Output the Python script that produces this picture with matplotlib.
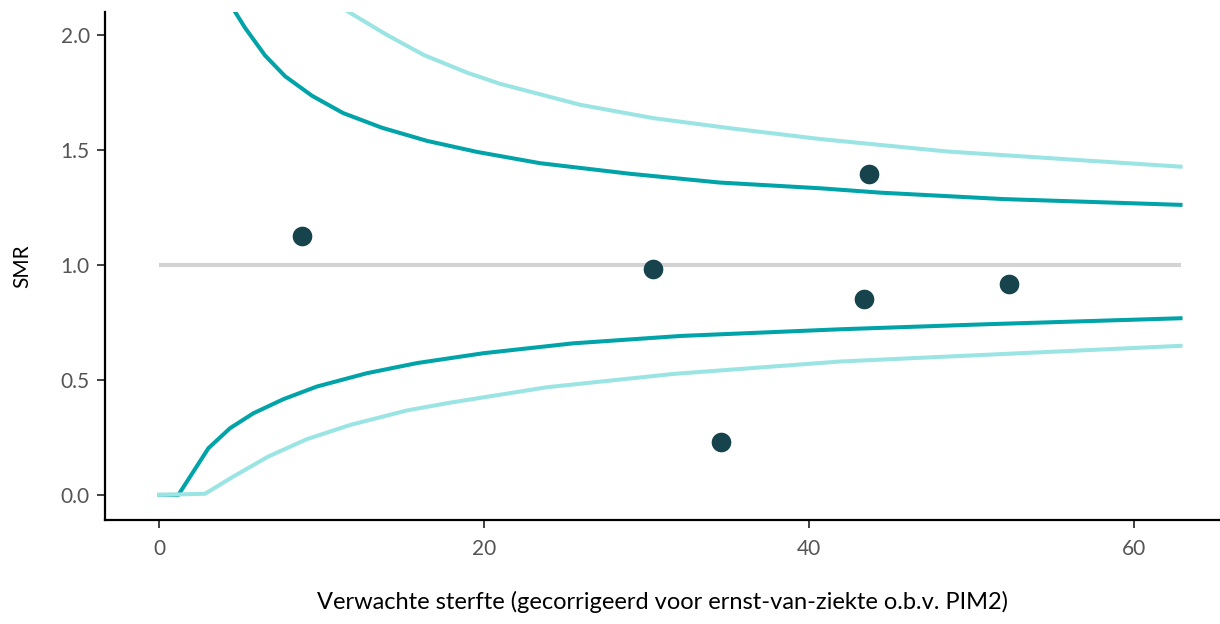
import matplotlib
matplotlib.use("Agg")
from matplotlib import pyplot as plt

# observed hospitals: expected deaths vs SMR
exp_deaths = [8.8, 30.4, 34.6, 43.4, 43.7, 52.3]
smr = [1.126, 0.983, 0.23, 0.852, 1.396, 0.917]

# 95% control limits
up95_x = [4.68, 5.30, 6.53, 7.76, 9.42, 11.33, 13.73, 16.50, 19.58, 23.46, 29.0, 34.5, 40.7, 44.4, 52.0, 62.87]
up95_y = [2.10, 2.03, 1.91, 1.82, 1.735, 1.66, 1.596, 1.539, 1.491, 1.442, 1.396, 1.358, 1.333, 1.314, 1.286, 1.261]
lo95_x = [0, 1.19, 3.04, 4.37, 5.81, 7.65, 9.71, 12.79, 15.87, 19.97, 25.5, 32.1, 41.9, 50.96, 62.87]
lo95_y = [0, 0, 0.203, 0.29, 0.355, 0.416, 0.471, 0.529, 0.573, 0.616, 0.659, 0.691, 0.72, 0.742, 0.768]

# 99.8% control limits
up998_x = [11.66, 14.02, 16.28, 18.95, 21.0, 22.84, 25.92, 30.42, 35.16, 40.70, 48.5, 62.87]
up998_y = [2.10, 2.0, 1.913, 1.836, 1.787, 1.753, 1.696, 1.638, 1.594, 1.547, 1.493, 1.427]
lo998_x = [0, 2.83, 4.58, 6.73, 9.09, 11.76, 15.25, 17.92, 23.87, 31.67, 41.93, 62.87]
lo998_y = [0, 0.005, 0.08, 0.167, 0.242, 0.304, 0.367, 0.401, 0.468, 0.526, 0.58, 0.648]

ref_x = [0, 62.87]
ref_y = [1, 1]

plt.rcParams['font.family'] = ['Lato', 'DejaVu Sans']

fig = plt.figure(figsize=(12.2, 6.24), dpi=100)
ax = fig.add_axes([0.086, 0.1667, 0.914, 0.8143])

ax.plot(ref_x, ref_y, color='#d3d3d3', lw=3, solid_capstyle='butt', zorder=1)
ax.plot(up95_x, up95_y, color='#00a3a8', lw=2.9, zorder=2)
ax.plot(lo95_x, lo95_y, color='#00a3a8', lw=2.9, zorder=2)
ax.plot(up998_x, up998_y, color='#9ae4e4', lw=2.9, zorder=3)
ax.plot(lo998_x, lo998_y, color='#9ae4e4', lw=2.9, zorder=3)
ax.scatter(exp_deaths, smr, s=200, color='#17444c', zorder=4, linewidths=0)

ax.set_xlim(-3.33, 65.3)
ax.set_ylim(-0.109, 2.1)
ax.set_xticks([0, 20, 40, 60])
ax.set_yticks([0.0, 0.5, 1.0, 1.5, 2.0])
ax.set_yticklabels(['0.0', '0.5', '1.0', '1.5', '2.0'])

for s in ['top', 'right']:
    ax.spines[s].set_visible(False)
for s in ['left', 'bottom']:
    ax.spines[s].set_linewidth(1.6)
    ax.spines[s].set_color('black')

ax.tick_params(axis='both', length=6, width=1.3, color='#333333',
               labelsize=15, labelcolor='#555555', pad=5)
ax.tick_params(axis='x', pad=8)

ax.set_xlabel('Verwachte sterfte (gecorrigeerd voor ernst-van-ziekte o.b.v. PIM2)',
              fontsize=17, labelpad=23)
ax.set_ylabel('SMR', fontsize=15, labelpad=20)

fig.savefig('out.png', dpi=100)
